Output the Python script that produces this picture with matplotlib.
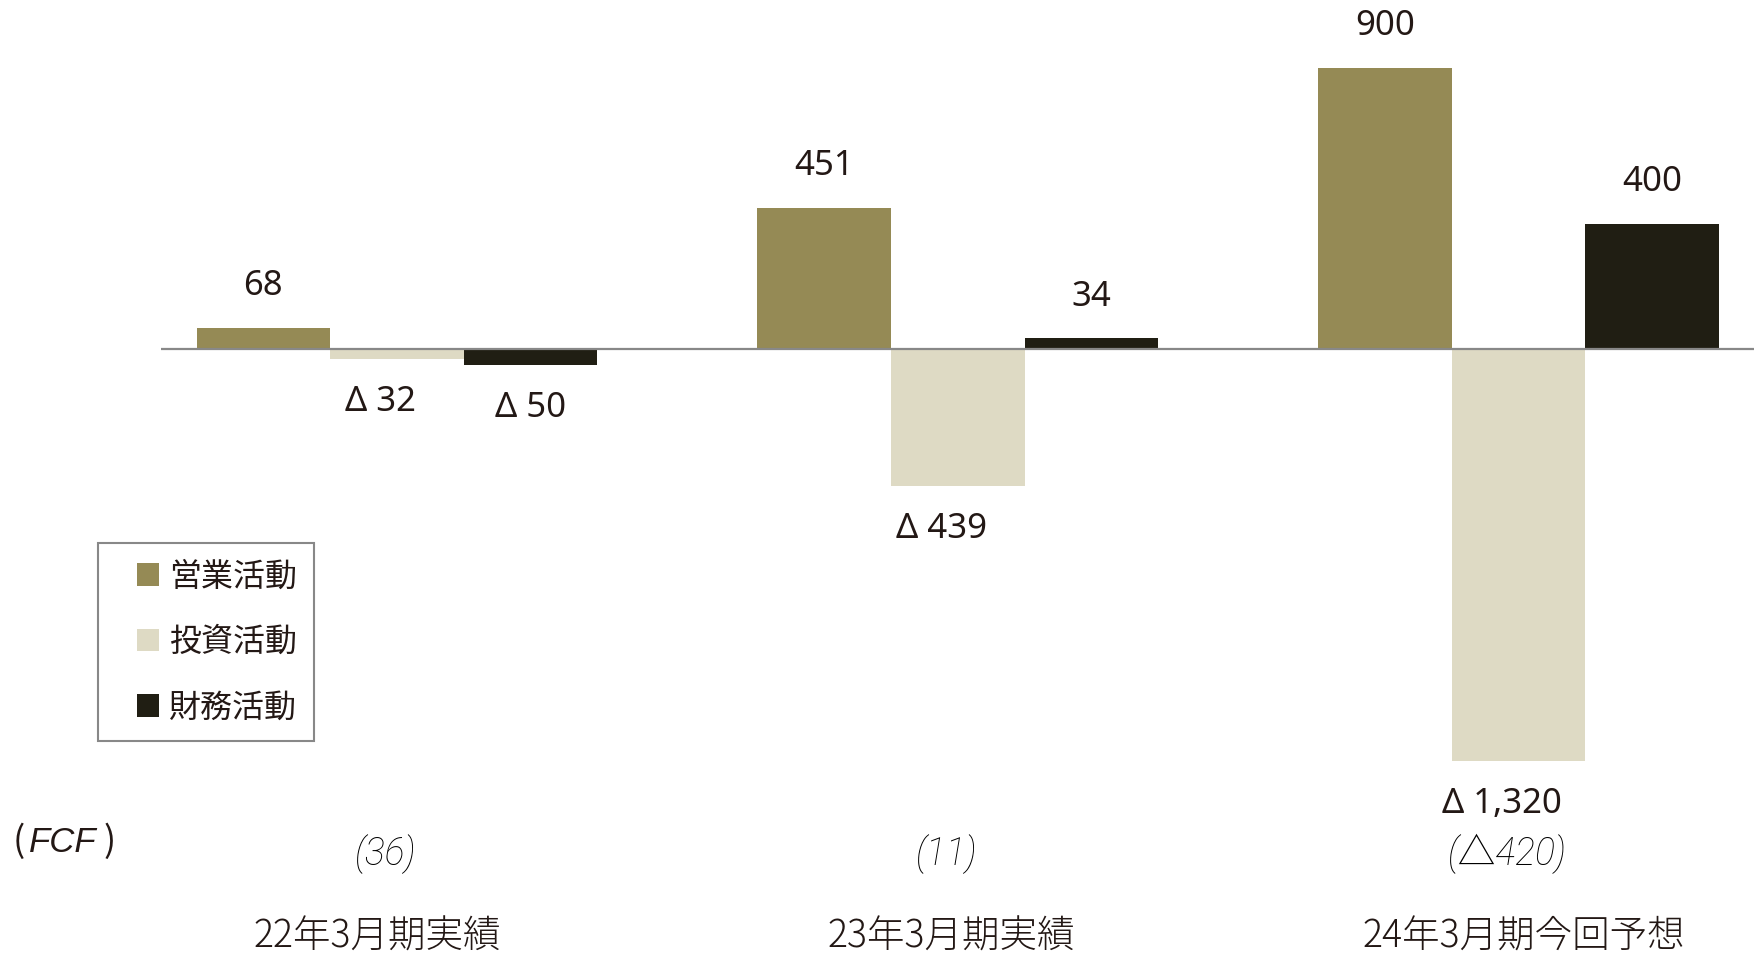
import matplotlib.pyplot as plt
from matplotlib.patches import Patch, Rectangle
from matplotlib.legend_handler import HandlerPatch
import numpy as np

plt.rcParams['font.family'] = ['Noto Sans', 'Noto Sans CJK JP', 'DejaVu Sans']

periods = ['22年3月期実績', '23年3月期実績', '24年3月期今回予想']
series = ['営業活動', '投資活動', '財務活動']
operating = [68, 451, 900]
investing = [-32, -439, -1320]
financing = [-50, 34, 400]
fcf_labels = ['(36)', '(11)', '(△420)']

colors = ['#958a55', '#dedac4', '#201e13']
txt = '#231815'

fig = plt.figure(figsize=(17.54, 9.57), dpi=100)
ax = fig.add_axes([0.0916, 0, 0.9084, 1])

x = np.arange(len(periods))
w = 0.2383
neg_dx = [0, -12, 0]
for i, vals in enumerate([operating, investing, financing]):
    bars = ax.bar(x + (i - 1) * w, vals, w, color=colors[i], label=series[i], zorder=2)
    for b, v in zip(bars, vals):
        lab = f'{v:,}' if v >= 0 else f'Δ {-v:,}'
        off = 30 if v >= 0 else -31
        ax.annotate(lab, (b.get_x() + b.get_width() / 2, v), xytext=(neg_dx[i] if v < 0 else 0, off),
                    textcoords='offset points', ha='center', va='center',
                    fontsize=25, color=txt)

ax.axhline(0, color='#888888', lw=1.6, zorder=3)
ax.set_xlim(-0.4214, 2.4196)
ax.set_ylim(-1946, 1117)
ax.axis('off')

tr = ax.get_xaxis_transform()
shift = [-0.035, -0.012, 0.01]
for xi, p, f, s in zip(x, periods, fcf_labels, shift):
    ax.text(xi - 0.02, 1 - 854 / 957, f, transform=tr, ha='center', va='center',
            fontsize=27, style='italic', color='#000000', fontweight='light',
            family=['Roboto', 'Noto Sans CJK JP'])
    ax.text(xi + s, 1 - 937 / 957, p, transform=tr, ha='center', va='center',
            fontsize=27, color=txt, family=['Noto Sans CJK JP'], fontweight='light')

fig.text(13 / 1754, 1 - 842 / 957, '(', ha='left', va='center', fontsize=26,
         color=txt, family=['Noto Sans CJK JP'])
fig.text(29 / 1754, 1 - 842 / 957, 'FCF', ha='left', va='center', fontsize=25,
         style='italic', color=txt, family=['Liberation Sans'])
fig.text(104 / 1754, 1 - 842 / 957, ')', ha='left', va='center', fontsize=26,
         color=txt, family=['Noto Sans CJK JP'])


def square(legend, orig_handle, xdescent, ydescent, width, height, fontsize):
    s = 0.7 * fontsize
    return Rectangle((-xdescent + width - s, -ydescent + (height - s) / 2), s, s)


handles = [Patch(facecolor=c, label=s) for c, s in zip(colors, series)]
leg = fig.legend(handles=handles, loc='upper left', bbox_to_anchor=(98 / 1754, 1 - 543 / 957),
                 bbox_transform=fig.transFigure, fancybox=False, edgecolor='#888888',
                 handlelength=1.37, handleheight=0.7, handletextpad=0.3,
                 labelspacing=1.05, borderpad=0.55, borderaxespad=0, framealpha=1,
                 handler_map={Patch: HandlerPatch(patch_func=square)},
                 prop={'family': ['Noto Sans CJK JP'], 'size': 23})
leg.get_frame().set_linewidth(1.5)
for t in leg.get_texts():
    t.set_color(txt)

fig.savefig('out.png', dpi=100)
